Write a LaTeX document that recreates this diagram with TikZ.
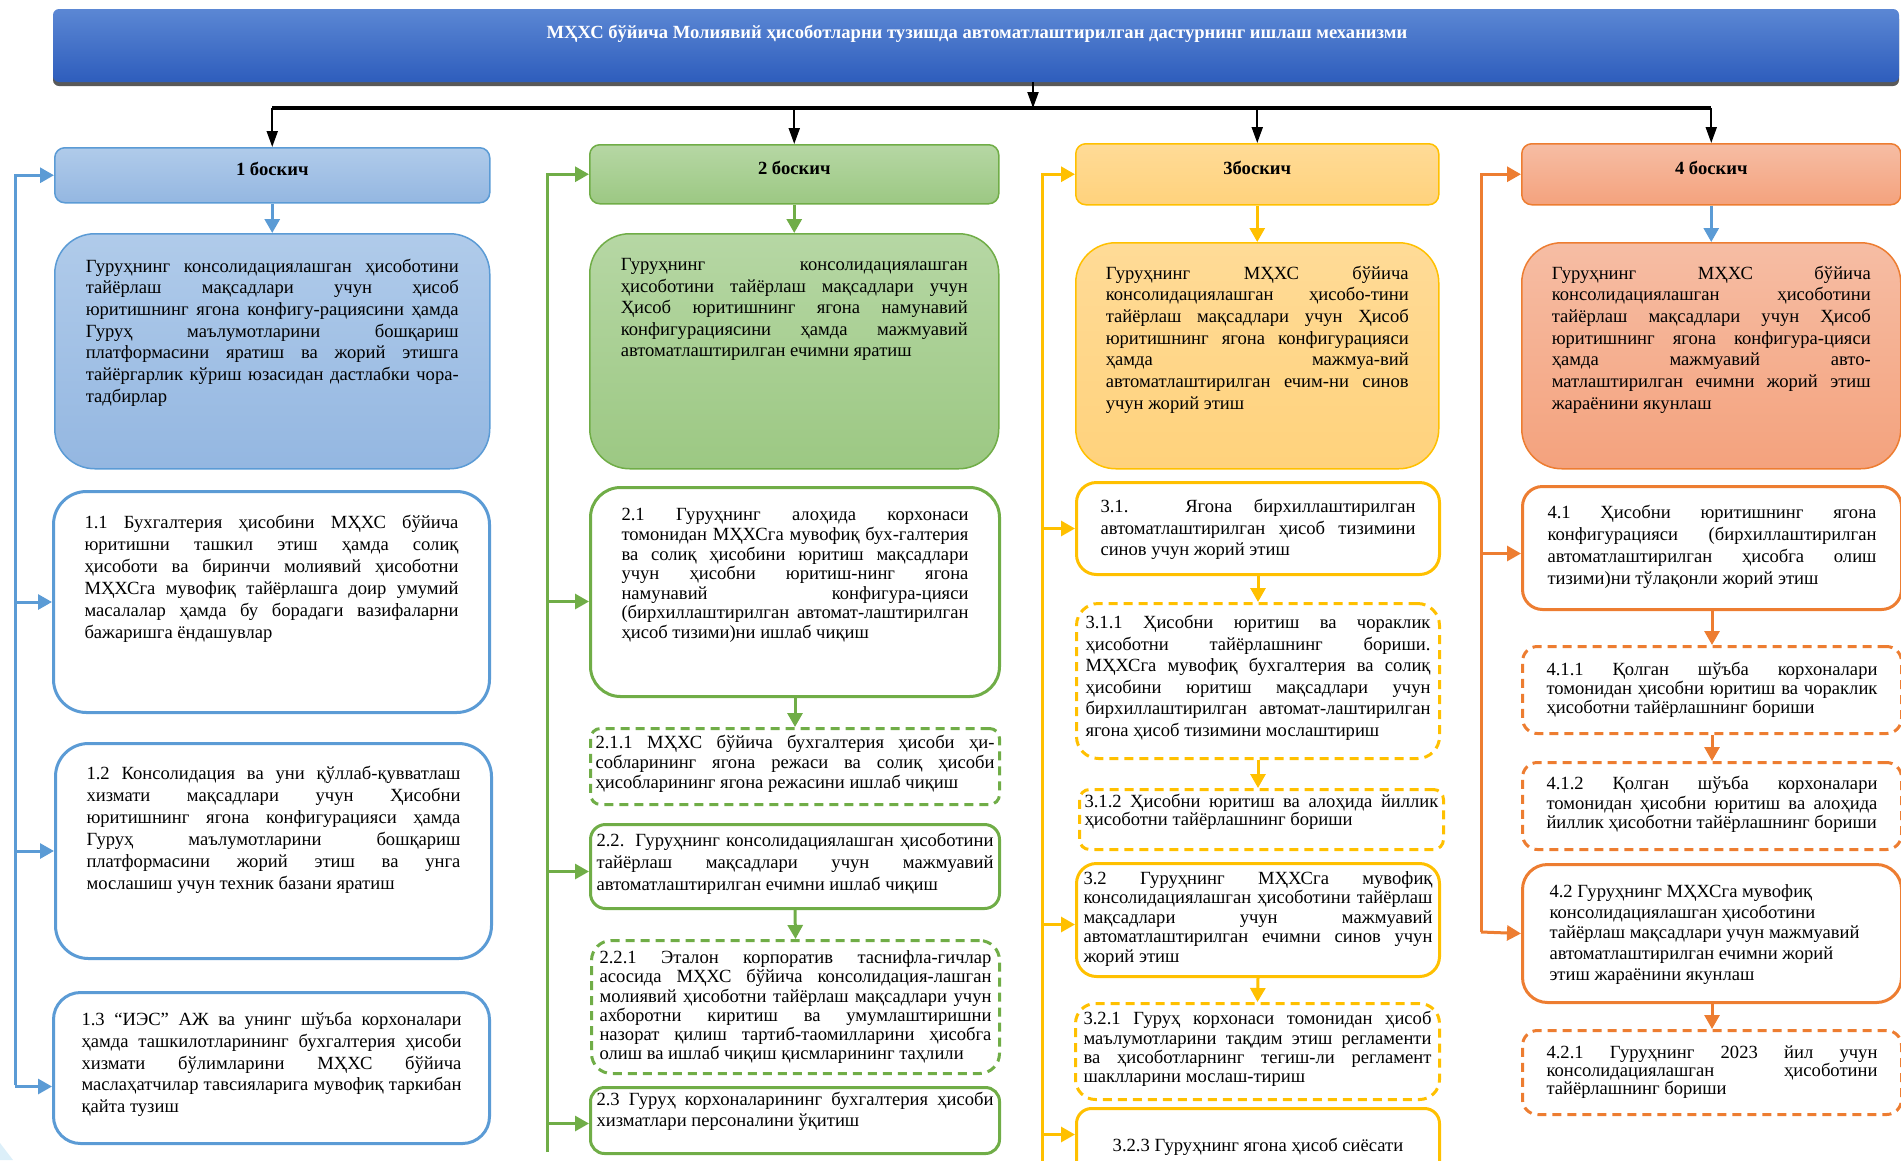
\documentclass[tikz,border=0pt]{standalone}
\usepackage{fontspec}
\setmainfont{Liberation Serif}
\usetikzlibrary{arrows,arrows.meta,positioning,shadows}

\definecolor{blueln}{HTML}{5B9BD5}
\definecolor{bluetop}{HTML}{B0CBEA}
\definecolor{bluebot}{HTML}{94B7E1}
\definecolor{greenln}{HTML}{70AD47}
\definecolor{greentop}{HTML}{B6D7A4}
\definecolor{greenbot}{HTML}{9CC883}
\definecolor{goldln}{HTML}{FFC000}
\definecolor{goldtop}{HTML}{FFDB97}
\definecolor{goldbot}{HTML}{FFD27C}
\definecolor{orangeln}{HTML}{ED7D31}
\definecolor{orangetop}{HTML}{F6BDA4}
\definecolor{orangebot}{HTML}{F4A27D}
\definecolor{titletop}{HTML}{5B87D4}
\definecolor{titlebot}{HTML}{2E5DBC}
\definecolor{deco}{HTML}{DCEFF9}

% one justified line of a box
\newcommand{\jl}[1]{\makebox[\linewidth][s]{#1}\par}
% text block: width, height, baselineskip, text
\newcommand{\bt}[4]{\parbox[t][#2pt][t]{#1pt}{\fontsize{18.6pt}{#3pt}\selectfont #4}}

\begin{document}
\begin{tikzpicture}[x=1pt,y=-1pt,>={Triangle[length=14pt,width=15pt]}]

\tikzstyle{titlebox}=[rounded corners=6pt,top color=titletop,bottom color=titlebot,minimum width=1846pt,minimum height=73pt,drop shadow={shadow xshift=0pt,shadow yshift=-4pt,fill=black!65,opacity=1}]
\tikzstyle{titletxt}=[text=white,font=\fontsize{18.6pt}{22pt}\selectfont\bfseries]
\tikzstyle{head}=[anchor=north west,inner sep=0pt,rounded corners=10pt,line width=1.5pt,text height=13pt,text depth=13pt,font=\fontsize{18.6pt}{22pt}\selectfont\bfseries]
\tikzstyle{big}=[anchor=north west,rounded corners=40pt,line width=1.5pt]
\tikzstyle{box}=[anchor=north west,line width=3pt,fill=white]
\tikzstyle{dbox}=[box,dash pattern=on 9pt off 6pt]
\tikzstyle{head1}=[head,draw=blueln,top color=bluetop,bottom color=bluebot]
\tikzstyle{head2}=[head,draw=greenln,top color=greentop,bottom color=greenbot]
\tikzstyle{head3}=[head,draw=goldln,top color=goldtop,bottom color=goldbot]
\tikzstyle{head4}=[head,draw=orangeln,top color=orangetop,bottom color=orangebot]
\tikzstyle{big1}=[big,draw=blueln,top color=bluetop,bottom color=bluebot]
\tikzstyle{big2}=[big,draw=greenln,top color=greentop,bottom color=greenbot]
\tikzstyle{big3}=[big,draw=goldln,top color=goldtop,bottom color=goldbot]
\tikzstyle{big4}=[big,draw=orangeln,top color=orangetop,bottom color=orangebot]
\tikzstyle{ln1}=[draw=blueln,line width=3pt,->]
\tikzstyle{ln2}=[draw=greenln,line width=3pt,->]
\tikzstyle{ln3}=[draw=goldln,line width=3pt,->]
\tikzstyle{ln4}=[draw=orangeln,line width=3pt,->]
\tikzstyle{blk}=[draw=black,line width=2pt,-{Triangle[length=16pt,width=11pt]}]

\useasboundingbox (0,0) rectangle (1901,1160);
\fill[deco] (0,1143) -- (13,1160) -- (0,1160) -- cycle;

%title
\node[titlebox] (top) at (976,45.5) {};
\node[titletxt] (toptxt) at (977,34) {МҲХС бўйича Молиявий ҳисоботларни тузишда автоматлаштирилган дастурнинг ишлаш механизми};

%1 боскич
\node[head1,minimum width=435pt,minimum height=55pt] (h1) at (54,147) {1 боскич};
\node[big1,inner xsep=31pt,inner ysep=25pt] (g1) at (54,233) {\bt{373}{185}{21.7}{%
\jl{Гуруҳнинг консолидациялашган ҳисоботини}
\jl{тайёрлаш мақсадлари учун ҳисоб}
\jl{юритишнинг ягона конфигу-рациясини ҳамда}
\jl{Гуруҳ маълумотларини бошқариш}
\jl{платформасини яратиш ва жорий этишга}
\jl{тайёргарлик кўриш юзасидан дастлабки чора-}
тадбирлар}};
\node[box,draw=blueln,rounded corners=33pt,inner xsep=31pt,inner ysep=24pt] (s11) at (52,490) {\bt{374}{173}{21.9}{%
\jl{1.1 Бухгалтерия ҳисобини МҲХС бўйича}
\jl{юритишни ташкил этиш ҳамда солиқ}
\jl{ҳисоботи ва биринчи молиявий ҳисоботни}
\jl{МҲХСга мувофиқ тайёрлашга доир умумий}
\jl{масалалар ҳамда бу борадаги вазифаларни}
бажаришга ёндашувлар}};
\node[box,draw=blueln,rounded corners=33pt,inner xsep=31pt,inner ysep=23pt] (s12) at (54,742) {\bt{374}{169}{22}{%
\jl{1.2 Консолидация ва уни қўллаб-қувватлаш}
\jl{хизмати мақсадлари учун Ҳисобни}
\jl{юритишнинг ягона конфигурацияси ҳамда}
\jl{Гуруҳ маълумотларини бошқариш}
\jl{платформасини жорий этиш ва унга}
мослашиш учун техник базани яратиш}};
\node[box,draw=blueln,rounded corners=27pt,inner xsep=28pt,inner ysep=20pt] (s13) at (52,991) {\bt{380}{111}{21.7}{%
\jl{1.3 “ИЭС” АЖ ва унинг шўъба корхоналари}
\jl{ҳамда ташкилотларининг бухгалтерия ҳисоби}
\jl{хизмати бўлимларини МҲХС бўйича}
\jl{маслаҳатчилар тавсияларига мувофиқ таркибан}
қайта тузиш}};

%2 боскич
\node[head2,minimum width=409pt,minimum height=59pt] (h2) at (589,144) {2 боскич};
\node[big2,inner xsep=31pt,inner ysep=25pt] (g2) at (589,233) {\bt{347}{185}{21.5}{%
\jl{Гуруҳнинг консолидациялашган}
\jl{ҳисоботини тайёрлаш мақсадлари учун}
\jl{Ҳисоб юритишнинг ягона намунавий}
\jl{конфигурациясини ҳамда мажмуавий}
автоматлаштирилган ечимни яратиш}};
\node[box,draw=greenln,rounded corners=30pt,inner xsep=31pt,inner ysep=21pt] (s21) at (589,486) {\bt{347}{167}{19.6}{%
\jl{2.1 Гуруҳнинг алоҳида корхонаси}
\jl{томонидан МҲХСга мувофиқ бух-галтерия}
\jl{ва солиқ ҳисобини юритиш мақсадлари}
\jl{учун ҳисобни юритиш-нинг ягона}
\jl{намунавий конфигура-цияси}
\jl{(бирхиллаштирилган автомат-лаштирилган}
ҳисоб тизими)ни ишлаб чиқиш}};
\node[dbox,draw=greenln,rounded corners=10pt,inner xsep=5pt,inner ysep=7pt] (s211) at (589,727) {\bt{399}{62}{19.7}{%
\jl{2.1.1 МҲХС бўйича бухгалтерия ҳисоби ҳи-}
\jl{собларининг ягона режаси ва солиқ ҳисоби}
ҳисобларининг ягона режасини ишлаб чиқиш}};
\node[box,draw=greenln,rounded corners=15pt,inner xsep=6pt,inner ysep=9pt] (s22) at (589,823) {\bt{397}{66}{21.7}{%
\jl{2.2. Гуруҳнинг консолидациялашган ҳисоботини}
\jl{тайёрлаш мақсадлари учун мажмуавий}
автоматлаштирилган ечимни ишлаб чиқиш}};
\node[dbox,draw=greenln,rounded corners=20pt,inner xsep=8pt,inner ysep=10pt] (s221) at (590,939) {\bt{392}{113}{19.3}{%
\jl{2.2.1 Эталон корпоратив таснифла-гичлар}
\jl{асосида МҲХС бўйича консолидация-лашган}
\jl{молиявий ҳисоботни тайёрлаш мақсадлари учун}
\jl{ахборотни киритиш ва умумлаштиришни}
\jl{назорат қилиш тартиб-таомилларини ҳисобга}
олиш ва ишлаб чиқиш қисмларининг таҳлили}};
\node[box,draw=greenln,rounded corners=14pt,inner xsep=6pt,inner ysep=5pt] (s23) at (589,1086) {\bt{397}{56}{20.7}{%
\jl{2.3 Гуруҳ корхоналарининг бухгалтерия ҳисоби}
хизматлари персоналини ўқитиш}};

%3 боскич
\node[head3,minimum width=363pt,minimum height=61pt] (h3) at (1075,143) {3боскич};
\node[big3,inner xsep=30pt,inner ysep=23pt] (g3) at (1075,242) {\bt{303}{180}{21.7}{%
\jl{Гуруҳнинг МҲХС бўйича}
\jl{консолидациялашган ҳисобо-тини}
\jl{тайёрлаш мақсадлари учун Ҳисоб}
\jl{юритишнинг ягона конфигурацияси}
\jl{ҳамда мажмуа-вий}
\jl{автоматлаштирилган ечим-ни синов}
учун жорий этиш}};
\node[box,draw=goldln,rounded corners=20pt,inner xsep=24pt,inner ysep=17pt] (s31) at (1075,481) {\bt{315}{58}{21.5}{%
\jl{3.1. Ягона бирхиллаштирилган}
\jl{автоматлаштирилган ҳисоб тизимини}
синов учун жорий этиш}};
\node[dbox,draw=goldln,rounded corners=22pt,inner xsep=9pt,inner ysep=12pt] (s311) at (1075,602) {\bt{345}{131}{21.5}{%
\jl{3.1.1 Ҳисобни юритиш ва чораклик}
\jl{ҳисоботни тайёрлашнинг бориши.}
\jl{МҲХСга мувофиқ бухгалтерия ва солиқ}
\jl{ҳисобини юритиш мақсадлари учун}
\jl{бирхиллаштирилган автомат-лаштирилган}
ягона ҳисоб тизимини мослаштириш}};
\node[dbox,draw=goldln,rounded corners=10pt,inner xsep=5pt,inner ysep=5pt] (s312) at (1078,788) {\bt{354}{50}{17.5}{%
\jl{3.1.2 Ҳисобни юритиш ва алоҳида йиллик}
ҳисоботни тайёрлашнинг бориши}};
\node[box,draw=goldln,rounded corners=20pt,inner xsep=7pt,inner ysep=8pt] (s32) at (1075,862) {\bt{349}{97}{19.4}{%
\jl{3.2 Гуруҳнинг МҲХСга мувофиқ}
\jl{консолидациялашган ҳисоботини тайёрлаш}
\jl{мақсадлари учун мажмуавий}
\jl{автоматлаштирилган ечимни синов учун}
жорий этиш}};
\node[dbox,draw=goldln,rounded corners=20pt,inner xsep=8pt,inner ysep=8pt] (s321) at (1074,1002) {\bt{348}{80}{19.3}{%
\jl{3.2.1 Гуруҳ корхонаси томонидан ҳисоб}
\jl{маълумотларини тақдим этиш регламенти}
\jl{ва ҳисоботларнинг тегиш-ли регламент}
шаклларини мослаш-тириш}};
\node[box,draw=goldln,rounded corners=15pt,inner xsep=7pt,inner ysep=30pt] (s323) at (1075,1107) {\bt{349}{18}{20}{%
\centering 3.2.3 Гуруҳнинг ягона ҳисоб сиёсати\par}};

%4 боскич
\node[head4,minimum width=379pt,minimum height=61pt] (h4) at (1521,143) {4 боскич};
\node[big4,inner xsep=30pt,inner ysep=23pt] (g4) at (1521,242) {\bt{319}{180}{21.7}{%
\jl{Гуруҳнинг МҲХС бўйича}
\jl{консолидациялашган ҳисоботини}
\jl{тайёрлаш мақсадлари учун Ҳисоб}
\jl{юритишнинг ягона конфигура-цияси}
\jl{ҳамда мажмуавий авто-}
\jl{матлаштирилган ечимни жорий этиш}
жараёнини якунлаш}};
\node[box,draw=orangeln,rounded corners=20pt,inner xsep=25pt,inner ysep=19pt] (s41) at (1521,485) {\bt{329}{85}{22}{%
\jl{4.1 Ҳисобни юритишнинг ягона}
\jl{конфигурацияси (бирхиллаштирилган}
\jl{автоматлаштирилган ҳисобга олиш}
тизими)ни тўлақонли жорий этиш}};
\node[dbox,draw=orangeln,rounded corners=15pt,inner xsep=24pt,inner ysep=16pt] (s411) at (1521,645) {\bt{331}{55}{18.8}{%
\jl{4.1.1 Қолган шўъба корхоналари}
\jl{томонидан ҳисобни юритиш ва чораклик}
ҳисоботни тайёрлашнинг бориши}};
\node[dbox,draw=orangeln,rounded corners=15pt,inner xsep=24pt,inner ysep=14pt] (s412) at (1521,761) {\bt{331}{59}{19.2}{%
\jl{4.1.2 Қолган шўъба корхоналари}
\jl{томонидан ҳисобни юритиш ва алоҳида}
йиллик ҳисоботни тайёрлашнинг бориши}};
\node[box,draw=orangeln,rounded corners=25pt,inner xsep=27pt,inner ysep=20pt] (s42) at (1521,863) {\bt{325}{98}{20.7}{%
4.2 Гуруҳнинг МҲХСга мувофиқ\par
консолидациялашган ҳисоботини\par
тайёрлаш мақсадлари учун мажмуавий\par
автоматлаштирилган ечимни жорий\par
этиш жараёнини якунлаш}};
\node[dbox,draw=orangeln,rounded corners=15pt,inner xsep=24pt,inner ysep=15pt] (s421) at (1521,1029) {\bt{331}{54}{16.3}{%
\jl{4.2.1 Гуруҳнинг 2023 йил учун}
\jl{консолидациялашган ҳисоботини}
тайёрлашнинг бориши}};

%top arrows
\coordinate (bar) at (1033,108);
\draw[line width=4pt] (h1.north |- bar) -- (h4.north |- bar);
\draw[blk] (top.south -| bar) -- (bar);
\foreach \h in {h1,h2,h3,h4}
  \draw[blk] (\h.north |- bar) -- (\h.north);

%side lines
\coordinate (l1) at (15,1085);
\coordinate (l2) at (547,1152);
\coordinate (l3) at (1042,1165);
\coordinate (l4) at (1481,932);
\coordinate (a13) at ([yshift=-18.5pt]s13.west);
\coordinate (a21) at ([yshift=-9.5pt]s21.west);
\coordinate (a22) at ([yshift=-5pt]s22.west);
\coordinate (a23) at ([yshift=-3pt]s23.west);
\coordinate (a32) at ([yshift=-4.5pt]s32.west);
\coordinate (a323) at ([yshift=13pt]s323.west);
\coordinate (a41) at ([yshift=-5.5pt]s41.west);

\draw[ln1] (l1) |- (h1.west);
\draw[ln1] (l1 |- s11.west) -- (s11.west);
\draw[ln1] (l1 |- s12.west) -- (s12.west);
\draw[ln1] (a13 -| l1) -- (a13);

\draw[ln2] (l2) |- (h2.west);
\draw[ln2] (a21 -| l2) -- (a21);
\draw[ln2] (a22 -| l2) -- (a22);
\draw[ln2] (a23 -| l2) -- (a23);

\draw[ln3] (l3) |- (h3.west);
\draw[ln3] (l3 |- s31.west) -- (s31.west);
\draw[ln3] (a32 -| l3) -- (a32);
\draw[ln3] (a323 -| l3) -- (a323);

\draw[ln4] (l4) |- (h4.west);
\draw[ln4] (a41 -| l4) -- (a41);
\draw[ln4] (l4) -- (s42.west);

%down the columns
\path (h1.south) edge[ln1] (g1.north)
      (h2.south) edge[ln2] (g2.north)
      (s21.south) edge[ln2] (s211.north)
      (s22.south) edge[ln2] (s221.north)
      (h3.south) edge[ln3] (g3.north)
      (s31.south) edge[ln3] (s311.north)
      (s311.south) edge[ln3] (s311.south |- s312.north)
      (s32.south) edge[ln3] (s321.north)
      (h4.south) edge[ln1] (g4.north)
      (s41.south) edge[ln4] (s411.north)
      (s411.south) edge[ln4] (s412.north)
      (s42.south) edge[ln4] (s421.north);

\end{tikzpicture}
\end{document}
